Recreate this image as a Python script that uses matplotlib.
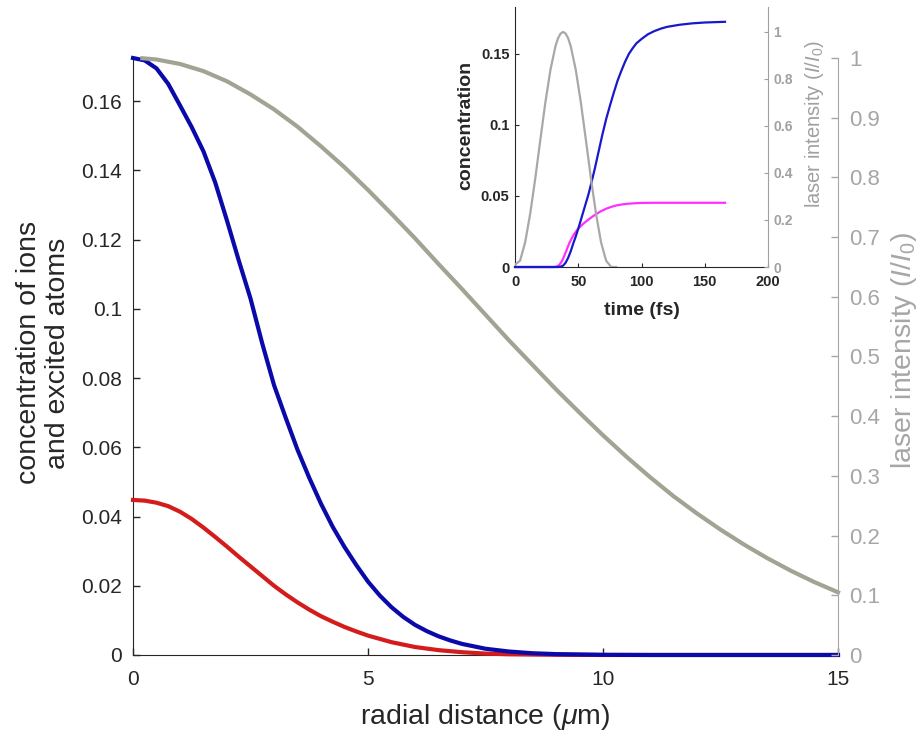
import matplotlib
matplotlib.use('Agg')
import matplotlib.pyplot as plt
from matplotlib.ticker import FuncFormatter

plt.rcParams['font.family'] = ['Liberation Sans', 'DejaVu Sans']
plt.rcParams['mathtext.fontset'] = 'custom'
plt.rcParams['mathtext.rm'] = 'Liberation Sans'
plt.rcParams['mathtext.it'] = 'Liberation Sans:italic'
plt.rcParams['mathtext.bf'] = 'Liberation Sans:bold'

# main plot: radial profiles
r_ions = [0, 0.25, 0.5, 0.75, 1, 1.25, 1.5, 1.75, 2, 2.25, 2.5, 2.75, 3, 3.25, 3.5, 3.75,
          4, 4.25, 4.5, 4.75, 5, 5.25, 5.5, 5.75, 6, 6.25, 6.5, 6.75, 7, 7.5, 8, 8.5, 9,
          10, 11, 15]
ions = [0.1725, 0.1718, 0.1695, 0.1650, 0.1588, 0.1525, 0.1455, 0.1365, 0.1255, 0.1140,
        0.1030, 0.0900, 0.0780, 0.0685, 0.0593, 0.0512, 0.0437, 0.0370, 0.0312, 0.0260,
        0.0212, 0.0172, 0.0138, 0.0110, 0.0087, 0.0069, 0.0054, 0.0042, 0.0032, 0.0018,
        0.0010, 0.0005, 0.00025, 0.00005, 0, 0]

r_exc = [0, 0.25, 0.5, 0.75, 1, 1.25, 1.5, 1.75, 2, 2.25, 2.5, 2.75, 3, 3.25, 3.5, 3.75,
         4, 4.25, 4.5, 4.75, 5, 5.5, 6, 6.5, 7, 7.5, 8, 9, 10, 15]
excited = [0.0448, 0.0446, 0.0440, 0.0430, 0.0414, 0.0393, 0.0368, 0.0341, 0.0313, 0.0284,
           0.0256, 0.0228, 0.0200, 0.0175, 0.0152, 0.0131, 0.0112, 0.0096, 0.0081, 0.0068,
           0.0056, 0.0037, 0.0023, 0.0014, 0.0008, 0.0004, 0.0002, 0.00005, 0, 0]

r_laser = [0.2, 0.5, 1, 1.5, 2, 2.5, 3, 3.5, 4, 4.5, 5, 5.5, 6, 6.5, 7, 7.5, 8, 8.5, 9, 9.5,
           10, 10.5, 11, 11.5, 12, 12.5, 13, 13.5, 14, 14.5, 15]
laser = [0.9996, 0.9975, 0.990, 0.978, 0.961, 0.939, 0.914, 0.885, 0.852, 0.817, 0.779,
         0.739, 0.698, 0.655, 0.613, 0.570, 0.527, 0.486, 0.445, 0.406, 0.368, 0.332,
         0.298, 0.266, 0.237, 0.210, 0.185, 0.162, 0.141, 0.122, 0.105]

# inset: time evolution
t_ions = [0, 30, 34, 36, 38, 40, 42, 44, 46, 48, 50, 52, 54, 56, 58, 60, 63, 66, 69, 72,
          75, 78, 81, 84, 87, 90, 93, 96, 100, 105, 110, 115, 120, 130, 140, 150, 166]
ions_t = [0, 0, 0, 0.0002, 0.001, 0.003, 0.0065, 0.011, 0.0165, 0.0215, 0.027, 0.033,
          0.039, 0.045, 0.0510, 0.058, 0.069, 0.081, 0.093, 0.104, 0.1135, 0.1225, 0.131,
          0.138, 0.1445, 0.150, 0.154, 0.1575, 0.1605, 0.1638, 0.166, 0.1677, 0.1690,
          0.1705, 0.1715, 0.1721, 0.1726]

t_exc = [0, 31, 33, 35, 37, 39, 41, 43, 45, 47, 49, 51, 54, 57, 60, 64, 68, 72, 76, 80, 85,
         90, 95, 100, 110, 166]
excited_t = [0, 0, 0.0003, 0.0015, 0.004, 0.008, 0.0125, 0.017, 0.0205, 0.0235, 0.026,
             0.028, 0.0305, 0.0327, 0.0347, 0.0372, 0.0393, 0.041, 0.0423, 0.0433, 0.0441,
             0.0446, 0.0449, 0.0451, 0.0452, 0.0452]

t_pulse = [0, 4, 8, 12, 16, 20, 24, 28, 32, 34, 36, 38, 40, 42, 44, 48, 52, 56, 60, 64,
           68, 72, 76, 80]
pulse = [0.01, 0.027, 0.105, 0.227, 0.377, 0.541, 0.701, 0.839, 0.940, 0.973, 0.993, 1.0,
         0.993, 0.973, 0.940, 0.839, 0.701, 0.541, 0.377, 0.227, 0.105, 0.027, 0, 0]

x_ticks = [0, 5, 10, 15]
y_ticks = [0, 0.02, 0.04, 0.06, 0.08, 0.1, 0.12, 0.14, 0.16]
y2_ticks = [0, 0.1, 0.2, 0.3, 0.4, 0.5, 0.6, 0.7, 0.8, 0.9, 1]
tx_ticks = [0, 50, 100, 150, 200]
ty_ticks = [0, 0.05, 0.1, 0.15]
ty2_ticks = [0, 0.2, 0.4, 0.6, 0.8, 1]

dark = '#262626'
grey_axis = '#a6a6a6'
fmt = FuncFormatter(lambda v, p: '%g' % v)

fig = plt.figure(figsize=(9.23, 7.39), dpi=100)

# ---- main axes ----
ax = fig.add_axes([0.1441, 0.1137, 0.7638, 0.8078])
ax2 = ax.twinx()
ax.plot(r_exc, excited, color='#d41c1c', lw=3, zorder=3, clip_on=False)
ax.plot(r_ions, ions, color='#0a0aaa', lw=3, zorder=4, clip_on=False)
ax2.plot(r_laser, laser, color='#a3a394', lw=3, clip_on=False)

ax.set_xlim(0, 15)
ax.set_ylim(0, 0.1725)
ax2.set_ylim(0, 1)
ax.set_xticks(x_ticks)
ax.set_yticks(y_ticks)
ax2.set_yticks(y2_ticks)
ax.xaxis.set_major_formatter(fmt)
ax.yaxis.set_major_formatter(fmt)
ax2.yaxis.set_major_formatter(fmt)

for a in (ax, ax2):
    a.spines['top'].set_visible(False)
ax.spines['right'].set_visible(False)
ax.spines['left'].set_color(dark)
ax.spines['bottom'].set_color(dark)
ax2.spines['left'].set_visible(False)
ax2.spines['bottom'].set_visible(False)
ax2.spines['right'].set_color(grey_axis)

ax.tick_params(direction='in', length=5, width=1, colors=dark, labelsize=15, pad=8)
ax.tick_params(axis='x', pad=11)
ax2.tick_params(direction='in', length=5, width=1, colors=grey_axis, labelsize=16, pad=8)

ax.set_xlabel(r'radial distance ($\mu$m)', fontsize=20.5, color=dark, va='top')
ax.xaxis.set_label_coords(0.5, -0.079)
ax.set_ylabel('concentration of ions\nand excited atoms', fontsize=20.5, color=dark,
              linespacing=1.15, ha='center')
ax.yaxis.set_label_coords(-0.088, 0.506)
ax2.set_ylabel(r'laser intensity ($I/I_0$)', fontsize=20.5, color=grey_axis)
ax2.yaxis.set_label_coords(1.072, 0.51)

# ---- inset ----
ai = fig.add_axes([0.558, 0.6387, 0.2741, 0.3518])
ai2 = ai.twinx()
ai.plot(t_exc, excited_t, color='#ff30ff', lw=1.6, zorder=3, clip_on=False)
ai.plot(t_ions, ions_t, color='#1818cc', lw=1.6, zorder=3, clip_on=False)
ai2.plot(t_pulse, pulse, color='#a8a8a8', lw=1.6)

ai.set_xlim(0, 200)
ai.set_ylim(0, 0.183)
ai2.set_ylim(0, 1.106)
ai.set_xticks(tx_ticks)
ai.set_yticks(ty_ticks)
ai2.set_yticks(ty2_ticks)
ai.xaxis.set_major_formatter(fmt)
ai.yaxis.set_major_formatter(fmt)
ai2.yaxis.set_major_formatter(fmt)

for a in (ai, ai2):
    a.spines['top'].set_visible(False)
ai.spines['right'].set_visible(False)
ai.spines['left'].set_color(dark)
ai.spines['bottom'].set_color(dark)
ai2.spines['left'].set_visible(False)
ai2.spines['bottom'].set_visible(False)
ai2.spines['right'].set_color('#a0a0a0')

ai.tick_params(direction='in', length=3, colors=dark, labelsize=10.5, pad=4)
ai.tick_params(axis='x', pad=6)
ai2.tick_params(direction='in', length=3, colors='#a0a0a0', labelsize=10, pad=4)
for lab in ai.get_xticklabels() + ai.get_yticklabels() + ai2.get_yticklabels():
    lab.set_fontweight('bold')

ai.set_xlabel('time (fs)', fontsize=14, fontweight='bold', color=dark, va='top')
ai.xaxis.set_label_coords(0.5, -0.135)
ai.set_ylabel('concentration', fontsize=14, fontweight='bold', color=dark)
ai.yaxis.set_label_coords(-0.16, 0.546)
ai2.set_ylabel(r'laser intensity ($I/I_0$)', fontsize=14.5, color='#a0a0a0')
ai2.yaxis.set_label_coords(1.14, 0.55)

fig.savefig('out.png', dpi=100)
